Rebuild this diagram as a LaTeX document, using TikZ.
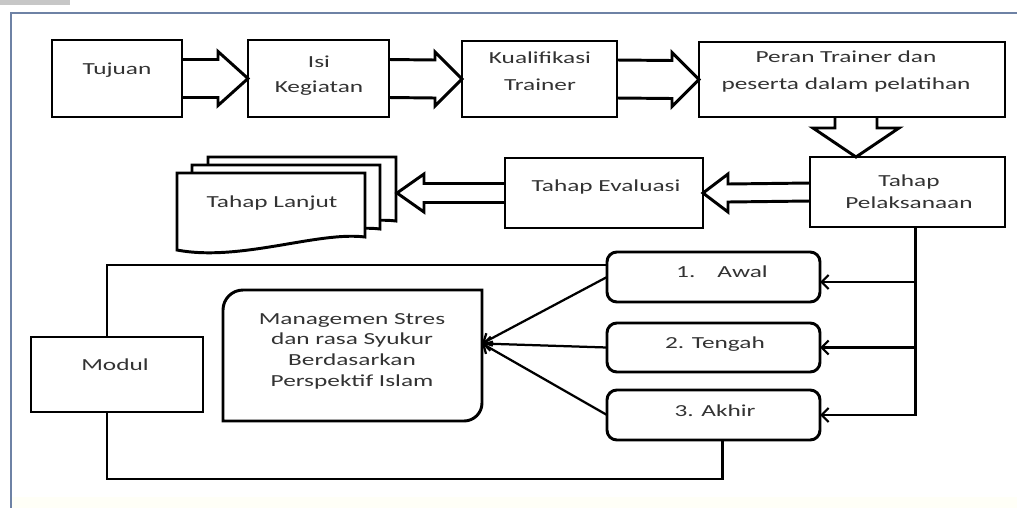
\documentclass[tikz,border=0pt]{standalone}
\usepackage{fontspec}
\newfontfamily\diagfont[FakeStretch=1.5]{Carlito}
\usetikzlibrary{calc,arrows.meta}

% block arrow: start, tip, shaft half, head half, head length
\newcommand{\fatarrow}[5]{%
  \draw[fat] ($(#1)+(0,{-(#3)})$) -- ($(#2)+({-(#5)},{-(#3)})$) -- ($(#2)+({-(#5)},{-(#4)})$)
    -- (#2) -- ($(#2)+({-(#5)},#4)$) -- ($(#2)+({-(#5)},#3)$) -- ($(#1)+(0,#3)$);}

\begin{document}
\begin{tikzpicture}[x=0.025cm,y=-0.025cm,
  box/.style={draw,fill=white,line width=2.1pt,inner sep=0pt,outer sep=0pt},
  sz/.style 2 args={minimum width=#1*0.025cm,minimum height=#2*0.025cm},
  stage/.style={box,rounded corners=7pt},
  txt/.style={font=\diagfont\fontsize{12}{14.2}\selectfont,text=black!80,inner sep=0pt},
  fat/.style={line width=2.1pt,line join=miter},
  link/.style={line width=1.6pt},
  arr/.style={-{Straight Barb[length=5pt,width=10pt]}}]
  \useasboundingbox (0,0) rectangle (1017,508);
  \fill[black!22] (0,0) rectangle (70,5);
  \fill[yellow!3] (12,497) rectangle (1017,508);
  \draw[line width=1.4pt,color={rgb,255:red,110;green,130;blue,165}] (1017,13) -- (11,13) -- (11,508);

  % top row
  \node[box,sz={130}{77}] (tujuan) at (117,78.5) {};
  \node[box,sz={141}{77}] (isi) at (318.5,78.5) {};
  \node[box,sz={155}{76}] (kualifikasi) at (539.5,79) {};
  \node[box,sz={306}{75}] (peran) at (852,79.5) {};
  \node[txt] (tujuan-t) at (117,70) {Tujuan};
  \node[txt,align=center] (isi-t) at (319,75.5) {Isi\\[3.5pt]Kegiatan};
  \node[txt,align=center] (kualifikasi-t) at (540,71) {Kualifikasi\\[5pt]Trainer};
  \node[txt,align=center] (peran-t) at (846,71.5) {Peran Trainer dan\\[5.7pt]peserta dalam pelatihan};
  \fatarrow{tujuan.east}{isi.west}{19}{27}{30}
  \fatarrow{isi.east}{kualifikasi.west}{19}{27}{27}
  \fatarrow{kualifikasi.east}{peran.west}{19}{27}{27}

  % middle row
  \node[box,sz={195}{70}] (pelaksanaan) at (907.5,192) {};
  \node[box,sz={198}{70}] (evaluasi) at (604,193) {};
  \node[txt,align=center] (pelaksanaan-t) at (909,191.5) {Tahap\\[1.4pt]Pelaksanaan};
  \node[txt] (evaluasi-t) at (606,187) {Tahap Evaluasi};
  \coordinate (dn) at ($(peran.south)+(4,0)$);
  \draw[fat] ($(dn)+(-21,0)$) -- ($(dn)+(-21,11)$) -- ($(dn)+(-43,11)$) -- (dn |- pelaksanaan.north)
    -- ($(dn)+(43,11)$) -- ($(dn)+(21,11)$) -- ($(dn)+(21,0)$);
  \fatarrow{pelaksanaan.west}{evaluasi.east}{9}{19}{-25}
  \foreach \dx/\dy in {31/16,15/8,0/0}
    \draw[fat,fill=white] (177+\dx,173-\dy) -- (365+\dx,173-\dy) -- (365+\dx,237-\dy)
      .. controls (318+\dx,231-\dy) and (240+\dx,262-\dy) .. (177+\dx,250-\dy) -- cycle;
  \coordinate (lanjut-r) at (397,193);
  \node[txt] (lanjut) at (272,203) {Tahap Lanjut};
  \fatarrow{evaluasi.west}{lanjut-r}{9.5}{19}{-27}

  % modul
  \node[box,sz={172}{75}] (modul) at (117,374.5) {};
  \node[txt] (modul-t) at (115,365) {Modul};
  \node[stage,sz={213}{50}] (awal) at (713.5,277) {};
  \node[stage,sz={213}{49}] (tengah) at (713.5,347.5) {};
  \node[stage,sz={213}{50}] (akhir) at (713.5,415) {};
  \node[txt] (awal-t) at (722,272) {1.\hspace{1.3em}Awal};
  \node[txt] (tengah-t) at (715,344) {2. Tengah};
  \node[txt] (akhir-t) at (715,411) {3. Akhir};
  \node[sz={259}{131},inner sep=0pt,outer sep=0pt] (mbox) at (352.5,355.5) {};
  \draw[box] (mbox.north east) -- ([yshift=0.45cm]mbox.south east)
    arc[start angle=0,end angle=-90,radius=0.45cm] -- (mbox.south west)
    -- ([yshift=-0.5cm]mbox.north west) arc[start angle=180,end angle=90,radius=0.5cm] -- cycle;
  \node[txt,align=center] (mstres) at (352,351) {Managemen Stres\\[0.5pt]dan rasa Syukur\\[0.5pt]Berdasarkan\\[0.5pt]Perspektif Islam};
  \coordinate (hub) at ($(mbox.east)+(0,-12)$);
  \draw[link] ($(modul.north)+(-10,0)$) |- ($(awal.north west)+(0,13)$);
  \draw[link] ($(modul.south)+(-10,0)$) -- ++(0,67) -| ($(akhir.south)+(9,0)$);
  \draw[link,arr] (awal.west) -- (hub);
  \draw[link,arr] (tengah.west) -- (hub);
  \draw[link,arr] (akhir.west) -- (hub);
  \draw[link,arr] ($(pelaksanaan.south)+(8,0)$) |- ($(awal.east)+(0,5)$);
  \draw[link,arr] ($(pelaksanaan.south)+(8,0)$) |- (tengah.east);
  \draw[link,arr] ($(pelaksanaan.south)+(8,0)$) |- (akhir.east);
\end{tikzpicture}
\end{document}
